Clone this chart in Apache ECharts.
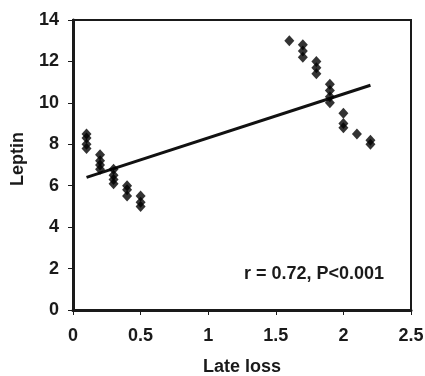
<!DOCTYPE html>
<html>
<head>
<meta charset="utf-8">
<script src="https://cdn.jsdelivr.net/npm/echarts@6/dist/echarts.min.js"></script>
<style>
  html, body { margin: 0; padding: 0; background: #fff; }
  #chart { width: 425px; height: 376px; }
</style>
</head>
<body>
<div id="chart"></div>
<script>
// late loss (x) vs leptin (y)
const lateLoss = [
  0.1, 0.1, 0.1, 0.1,
  0.2, 0.2, 0.2, 0.2,
  0.3, 0.3, 0.3, 0.3,
  0.4, 0.4, 0.4,
  0.5, 0.5, 0.5,
  1.6,
  1.7, 1.7, 1.7,
  1.8, 1.8, 1.8,
  1.9, 1.9, 1.9, 1.9,
  2.0, 2.0, 2.0,
  2.1,
  2.2, 2.2
]
const leptin = [
  8.5, 8.3, 8.0, 7.8,
  7.5, 7.2, 7.0, 6.8,
  6.8, 6.5, 6.3, 6.1,
  6.0, 5.8, 5.5,
  5.5, 5.2, 5.0,
  13.0,
  12.8, 12.5, 12.2,
  12.0, 11.7, 11.4,
  10.9, 10.6, 10.3, 10.0,
  9.5, 9.0, 8.8,
  8.5,
  8.2, 8.0
]
const fitX = [0.1, 2.2]
const fitY = [6.4, 10.85]
const annotation = 'r = 0.72, P<0.001'

const chart = echarts.init(document.getElementById('chart'), null, { renderer: 'canvas' })

const font = '"Liberation Sans", Arial, sans-serif'
const ink = '#1a1a1a'

chart.setOption({
  animation: false,
  grid: {
    left: 73,
    right: 14,
    top: 20,
    bottom: 66,
    outerBoundsMode: 'none',
    show: true,
    borderColor: ink,
    borderWidth: 2,
    backgroundColor: 'transparent',
  },
  xAxis: {
    type: 'value',
    min: 0,
    max: 2.5,
    interval: 0.5,
    name: 'Late loss',
    nameLocation: 'middle',
    nameGap: 48,
    nameTextStyle: { color: ink, fontFamily: font, fontWeight: 'bold', fontSize: 18 },
    axisLine: { lineStyle: { color: ink, width: 3 } },
    axisTick: { show: true, length: 5, lineStyle: { color: ink, width: 1 } },
    axisLabel: { color: ink, fontFamily: font, fontWeight: 'bold', fontSize: 18, margin: 17 },
    splitLine: { show: false },
  },
  yAxis: {
    type: 'value',
    min: 0,
    max: 14,
    interval: 2,
    name: 'Leptin',
    nameLocation: 'middle',
    nameGap: 46,
    nameRotate: 90,
    nameTextStyle: { color: ink, fontFamily: font, fontWeight: 'bold', fontSize: 18, padding: [0, 0, 0, 12] },
    axisLine: { lineStyle: { color: ink, width: 3 } },
    axisTick: { show: true, length: 5, lineStyle: { color: ink, width: 1 } },
    axisLabel: { color: ink, fontFamily: font, fontWeight: 'bold', fontSize: 18, margin: 14 },
    splitLine: { show: false },
  },
  series: [
    {
      type: 'scatter',
      data: lateLoss.map((x, i) => [x, leptin[i]]),
      symbol: 'diamond',
      symbolSize: [10, 11],
      itemStyle: { color: '#000' },
      z: 3,
    },
    {
      type: 'line',
      data: fitX.map((x, i) => [x, fitY[i]]),
      symbol: 'none',
      lineStyle: { color: '#111', width: 3 },
      z: 2,
    },
  ],
  graphic: [
    {
      type: 'text',
      right: 41,
      top: 265,
      style: {
        text: annotation,
        fill: ink,
        font: 'bold 18px ' + font,
      },
    },
  ],
})
</script>
</body>
</html>
